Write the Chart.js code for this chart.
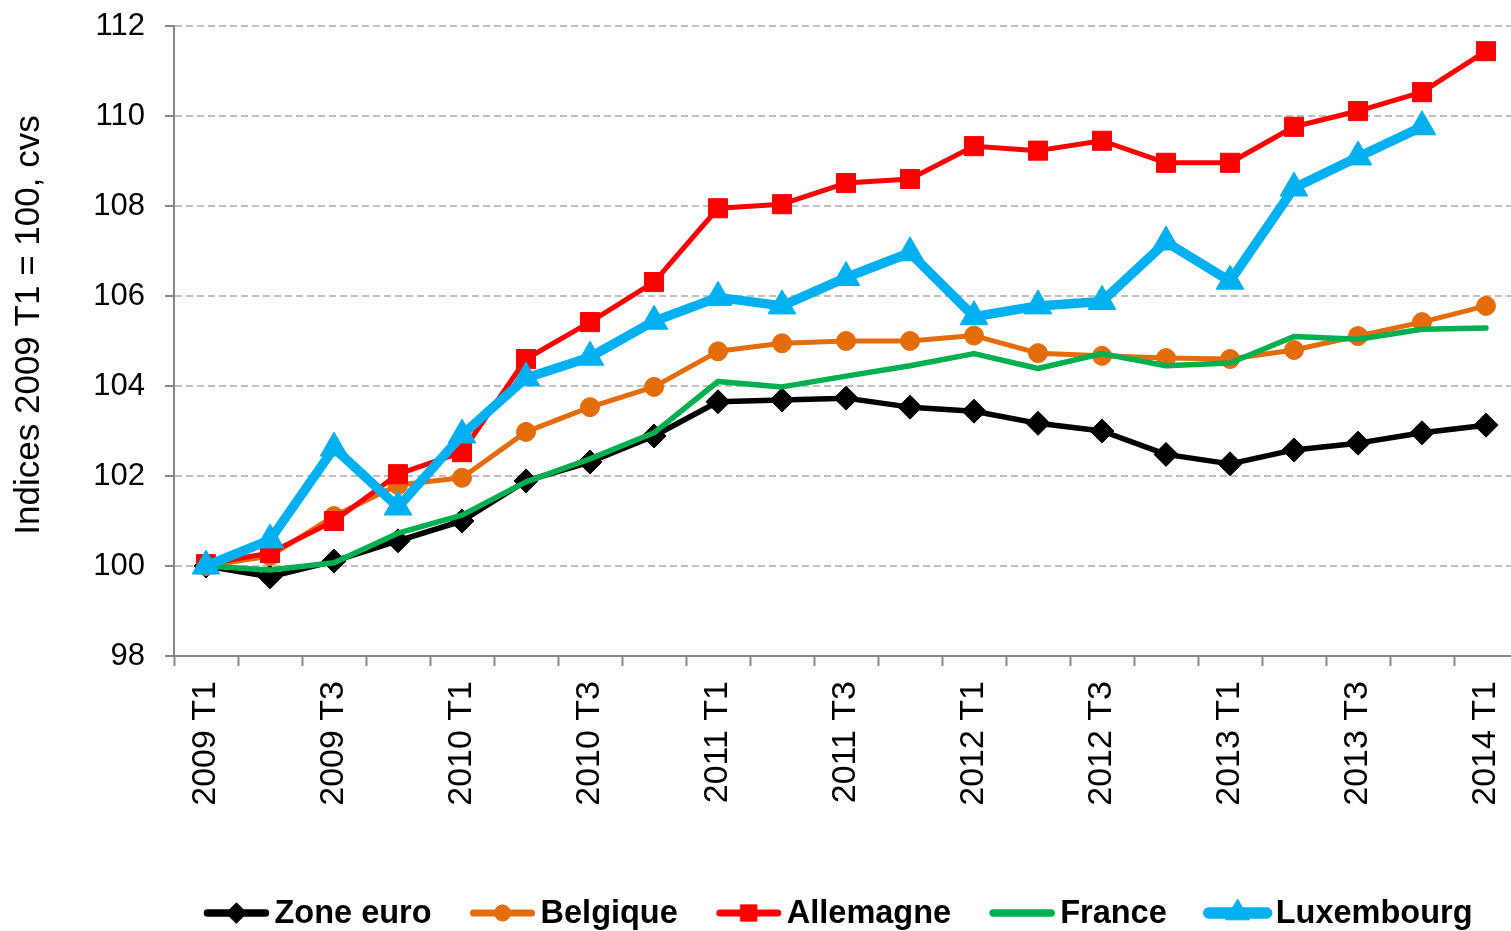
<!DOCTYPE html>
<html>
<head>
<meta charset="utf-8">
<script src="https://cdn.jsdelivr.net/npm/chart.js@4.4.0/dist/chart.umd.min.js"></script>
<style>
  html, body { margin: 0; padding: 0; background: #fff; overflow: hidden; }
  canvas { display: block; }
</style>
</head>
<body>
<canvas id="indexChart" width="1520" height="931"></canvas>
<script>
// quarters 2009 T1 .. 2014 T1
const quarters = [
    "2009 T1", "2009 T2", "2009 T3", "2009 T4",
    "2010 T1", "2010 T2", "2010 T3", "2010 T4",
    "2011 T1", "2011 T2", "2011 T3", "2011 T4",
    "2012 T1", "2012 T2", "2012 T3", "2012 T4",
    "2013 T1", "2013 T2", "2013 T3", "2013 T4",
    "2014 T1"
];

const zoneEuro = [100, 99.76, 100.11, 100.56, 101.0, 101.89, 102.31, 102.89, 103.65, 103.69, 103.73,
    103.53, 103.44, 103.17, 103.0, 102.48, 102.27, 102.58, 102.73, 102.96, 103.13];
const belgique = [100, 100.22, 101.11, 101.8, 101.96, 102.98, 103.53, 103.98, 104.77, 104.95, 105.0,
    105.0, 105.12, 104.73, 104.67, 104.62, 104.6, 104.8, 105.11, 105.42, 105.78];
const allemagne = [100.04, 100.29, 101.0, 102.04, 102.53, 104.6, 105.42, 106.31, 107.95, 108.04, 108.51,
    108.6, 109.33, 109.23, 109.45, 108.96, 108.96, 109.76, 110.11, 110.53, 111.44];
const france = [100, 99.91, 100.07, 100.73, 101.13, 101.87, 102.38, 102.96, 104.1, 103.98, 104.22,
    104.45, 104.72, 104.39, 104.72, 104.45, 104.51, 105.1, 105.04, 105.26, 105.29];
const luxembourg = [100, 100.58, 102.62, 101.31, 102.91, 104.18, 104.64, 105.44, 105.97, 105.78, 106.41,
    106.96, 105.54, 105.78, 105.88, 107.2, 106.33, 108.4, 109.09, 109.76, null];

const yTicks = [98, 100, 102, 104, 106, 108, 110, 112];
const yTitle = "Indices 2009 T1 = 100, cvs";

const font = "'Liberation Sans', Arial, sans-serif";

function series(label, data, color, width, style, radius, order) {
    return {
        label: label,
        data: data,
        borderColor: color,
        backgroundColor: color,
        borderWidth: width,
        borderJoinStyle: 'round',
        borderCapStyle: 'round',
        pointStyle: style,
        pointRadius: radius,
        pointBorderWidth: 1,
        pointBorderColor: color,
        pointBackgroundColor: color,
        pointHoverRadius: radius,
        tension: 0,
        spanGaps: false,
        order: order
    };
}

const datasets = [
    series("Zone euro", zoneEuro, "#000000", 5.5, 'rectRot', 12, 4),
    series("Belgique", belgique, "#E46C0A", 5, 'circle', 9.5, 3),
    series("Allemagne", allemagne, "#FF0000", 5, 'rect', 13.5, 2),
    series("France", france, "#00B050", 5.5, false, 0, 1),
    series("Luxembourg", luxembourg, "#00B0F0", 9.5, 'triangle', 16, 0)
];

// legend + y title drawn by hand (line+marker symbols, title placed as in the original)
const extrasPlugin = {
    id: 'extras',
    afterDraw(chart) {
        const ctx = chart.ctx;
        const sets = chart.data.datasets;
        const symW = 66, gapTxt = 5, gapItem = 38, cy = 913, centerX = 838;
        ctx.save();
        ctx.font = "bold 32.5px " + font;
        let total = 0;
        const widths = sets.map(ds => ctx.measureText(ds.label).width);
        widths.forEach(w => { total += symW + gapTxt + w; });
        total += gapItem * (sets.length - 1);
        let x = centerX - total / 2;
        sets.forEach((ds, i) => {
            ctx.strokeStyle = ds.borderColor;
            ctx.lineWidth = ds.borderWidth + 2;
            ctx.lineCap = 'round';
            ctx.beginPath();
            ctx.moveTo(x + 4, cy);
            ctx.lineTo(x + symW - 4, cy);
            ctx.stroke();
            if (ds.pointStyle) {
                ctx.fillStyle = ds.backgroundColor;
                ctx.lineWidth = 1;
                Chart.helpers.drawPoint(ctx, {
                    pointStyle: ds.pointStyle,
                    radius: ds.pointRadius * 0.85,
                    rotation: 0,
                    borderWidth: 1
                }, x + symW / 2, cy);
            }
            ctx.fillStyle = "#000";
            ctx.textBaseline = 'middle';
            ctx.textAlign = 'left';
            ctx.fillText(ds.label, x + symW + gapTxt, cy + 1);
            x += symW + gapTxt + widths[i] + gapItem;
        });

        ctx.font = "35px " + font;
        ctx.translate(29, 325);
        ctx.rotate(-Math.PI / 2);
        ctx.textAlign = 'center';
        ctx.textBaseline = 'middle';
        ctx.fillText(yTitle, 0, 0);
        ctx.restore();
    }
};

const ctx = document.getElementById('indexChart').getContext('2d');

new Chart(ctx, {
    type: 'line',
    data: {
        labels: quarters,
        datasets: datasets
    },
    plugins: [extrasPlugin],
    options: {
        responsive: false,
        animation: false,
        events: [],
        layout: { autoPadding: false, padding: { top: 26, right: 2, bottom: 0, left: 0 } },
        plugins: {
            legend: { display: false },
            tooltip: { enabled: false }
        },
        scales: {
            x: {
                type: 'category',
                offset: true,
                afterFit(scale) {
                    scale.height = 275;
                    scale.paddingLeft = 0;
                    scale.paddingRight = 0;
                },
                border: { display: true, color: '#868686', width: 2 },
                grid: {
                    offset: true,
                    drawOnChartArea: false,
                    drawTicks: true,
                    tickLength: 10,
                    tickColor: '#868686',
                    tickWidth: 2
                },
                ticks: {
                    autoSkip: false,
                    maxRotation: 90,
                    minRotation: 90,
                    padding: 15,
                    color: '#000',
                    font: { family: font, size: 34 },
                    callback: function (value, index) {
                        return index % 2 === 0 ? this.getLabelForValue(value) : '';
                    }
                }
            },
            y: {
                min: 98,
                max: 112,
                afterFit(scale) {
                    scale.width = 174;
                    scale.paddingTop = 0;
                    scale.paddingBottom = 0;
                },
                afterBuildTicks(scale) { scale.ticks = yTicks.map(v => ({ value: v })); },
                border: { display: true, color: '#868686', width: 2, dash: [7, 4] },
                grid: {
                    color: '#C0C0C0',
                    lineWidth: 2,
                    drawTicks: true,
                    tickLength: 9,
                    tickColor: '#868686',
                    tickWidth: 2,
                    tickBorderDash: []
                },
                ticks: {
                    padding: 20,
                    color: '#000',
                    font: { family: font, size: 31 }
                },
                title: { display: false }
            }
        }
    }
});
</script>
</body>
</html>
